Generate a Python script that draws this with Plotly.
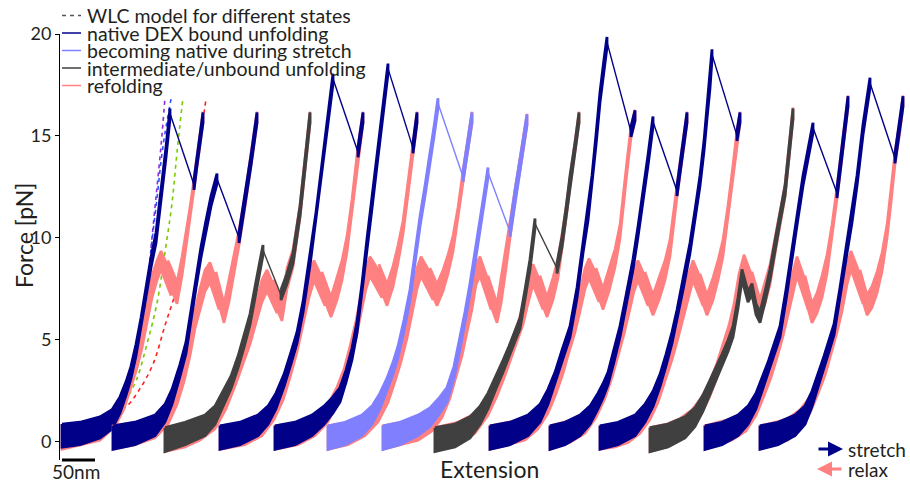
import numpy as np
import plotly.graph_objects as go

# ---------------- data (extension in chart units: 33 units = 50 nm; force in pN) ----------------
FORCE_TICKS = [0, 5, 10, 15, 20]
SCALE_BAR_UNITS = 33          # length of 50 nm in extension units
SCALE_BAR_LABEL = "50nm"

# WLC model curves (dashed)
WLC1_X = [151, 156, 161, 165]
WLC1_F = [9.5, 12.0, 14.5, 16.9]
WLC2_X = [145, 150, 156, 163, 171]
WLC2_F = [6.5, 9.0, 11.5, 14.5, 16.8]
WLC3_X = [129, 137, 147, 157, 165, 172, 177, 183]
WLC3_F = [2.3, 3.1, 4.8, 6.8, 9.3, 11.7, 14.2, 16.9]
WLC4_X = [122, 128, 140, 153, 165, 177, 188, 195, 200, 206]
WLC4_F = [1.6, 1.8, 2.6, 3.8, 5.7, 7.6, 10.6, 12.8, 14.7, 16.8]

# cycle 1 (native DEX bound)
S1X = [62, 80, 100, 112, 120, 126, 131, 136, 141, 146, 151, 156, 161, 166, 170, None, 194, 197, 200, 203]
S1F = [0.3, 0.4, 0.7, 1.1, 1.8, 2.6, 3.4, 4.5, 5.8, 7.3, 8.8, 10.0, 12.0, 14.2, 16.1, None, 12.6, 13.8, 14.9, 15.9]
R1X = [203, 198, 194, 190, 186, 182, 177, 168, 171, 161, 157, 152, 147, 142, 137, 131, 124, 115, 100, 80, 62]
R1F = [15.9, 14.2, 12.6, 11.2, 9.9, 8.6, 7.3, 8.4, 7.7, 8.9, 8.4, 7.6, 6.2, 5.0, 4.0, 3.0, 2.0, 1.2, 0.6, 0.4, 0.2]
# cycle 2 (native)
S2X = [113, 135, 155, 165, 172, 180, 186, 191, 196, 201, 206, 211, 217, None, 239, 245, 251, 257]
S2F = [0.2, 0.4, 0.8, 1.4, 2.2, 3.5, 4.6, 6.2, 7.8, 9.3, 10.6, 11.8, 12.9, None, 10.0, 11.8, 13.8, 15.9]
R2X = [257, 251, 245, 239, 234, 229, 224, 216, 219, 210, 205, 200, 195, 190, 184, 177, 168, 155, 135, 113]
R2F = [15.9, 13.8, 11.8, 10.0, 8.7, 7.4, 6.3, 7.8, 7.0, 8.3, 7.9, 7.0, 6.0, 4.6, 3.3, 2.2, 1.3, 0.7, 0.4, 0.2]
# cycle 3 (intermediate)
S3X = [165, 185, 205, 215, 223, 231, 238, 244, 250, 256, 263, None, 281, 287, 293, 300, 305, 310]
S3F = [0.1, 0.4, 0.8, 1.3, 2.1, 2.9, 3.9, 4.9, 6.0, 7.6, 9.4, None, 7.2, 8.0, 9.0, 11.3, 13.6, 15.9]
R3X = [310, 305, 300, 293, 287, 282, 274, 277, 267, 262, 256, 250, 244, 236, 226, 215, 200, 185, 165]
R3F = [15.9, 13.6, 11.3, 9.0, 8.0, 6.4, 7.4, 6.8, 7.9, 7.4, 6.3, 5.2, 4.3, 3.2, 2.0, 1.1, 0.6, 0.3, 0.1]
# cycle 4 (native)
S4X = [220, 240, 258, 268, 276, 284, 291, 297, 303, 310, 316, 321, 327, 333, None, 358, 361, 363]
S4F = [0.2, 0.4, 0.8, 1.3, 2.0, 3.0, 4.1, 5.1, 6.6, 8.9, 11.0, 13.0, 15.4, 17.8, None, 14.2, 15.1, 15.9]
R4X = [363, 358, 352, 347, 342, 337, 331, 322, 325, 314, 309, 303, 297, 290, 283, 274, 262, 245, 220]
R4F = [15.9, 14.2, 11.6, 9.7, 8.4, 7.5, 6.6, 7.8, 7.2, 8.4, 7.6, 6.2, 4.8, 3.5, 2.4, 1.5, 0.8, 0.4, 0.2]
# cycle 5 (native)
S5X = [275, 295, 312, 324, 333, 340, 346, 352, 357, 362, 367, 372, 377, 382, 388, None, 413, 415, 417]
S5F = [0.2, 0.4, 0.8, 1.3, 1.8, 2.3, 3.2, 4.3, 5.6, 7.5, 9.7, 11.7, 13.8, 16.0, 18.3, None, 14.4, 15.1, 15.9]
R5X = [417, 413, 408, 403, 398, 393, 387, 379, 382, 370, 366, 361, 356, 350, 344, 337, 328, 315, 298, 275]
R5F = [15.9, 14.4, 12.4, 10.5, 9.2, 8.1, 7.2, 8.2, 7.6, 8.6, 8.0, 6.8, 5.5, 4.3, 3.2, 2.3, 1.4, 0.8, 0.4, 0.2]
# cycle 6 (becoming native)
S6X = [328, 345, 362, 372, 380, 387, 393, 398, 404, 410, 415, 420, 425, 430, 434, 438, None, 463, 466, 469, 472]
S6F = [0.2, 0.4, 0.8, 1.3, 2.0, 2.8, 3.6, 4.4, 5.7, 7.2, 9.0, 10.8, 12.3, 13.8, 15.2, 16.6, None, 13.0, 14.0, 15.0, 15.9]
R6X = [472, 469, 466, 463, 458, 453, 448, 443, 437, 430, 433, 421, 417, 412, 407, 401, 395, 388, 378, 365, 348, 328]
R6F = [15.9, 15.0, 14.0, 13.0, 11.2, 9.7, 8.7, 7.9, 7.2, 8.0, 7.5, 8.6, 8.0, 6.7, 5.5, 4.3, 3.3, 2.3, 1.4, 0.8, 0.4, 0.2]
# cycle 7 (becoming native)
S7X = [383, 400, 418, 430, 440, 447, 454, 460, 465, 470, 475, 480, 484, 488, None, 510, 515, 521, 527]
S7F = [0.2, 0.4, 0.8, 1.2, 1.8, 2.3, 3.4, 4.8, 6.1, 7.5, 9.0, 10.5, 11.9, 13.2, None, 10.3, 12.1, 13.9, 15.8]
R7X = [527, 521, 515, 510, 505, 501, 497, 488, 491, 480, 476, 472, 467, 462, 456, 450, 442, 432, 418, 400, 383]
R7F = [15.8, 13.9, 12.1, 10.3, 8.6, 7.3, 6.3, 7.6, 7.0, 8.6, 8.2, 7.0, 5.8, 4.6, 3.5, 2.5, 1.6, 1.0, 0.6, 0.4, 0.2]
# cycle 8 (intermediate)
S8X = [435, 455, 470, 480, 488, 496, 503, 509, 515, 520, 525, 530, 535, None, 557, 562, 566, 570, 575, 579]
S8F = [0.1, 0.3, 0.7, 1.3, 2.0, 2.9, 3.7, 4.4, 5.2, 5.8, 7.2, 8.7, 10.7, None, 8.5, 9.8, 11.2, 12.8, 14.4, 15.9]
R8X = [579, 575, 570, 566, 562, 558, 553, 547, 540, 543, 533, 528, 523, 518, 512, 505, 497, 488, 475, 458, 435]
R8F = [15.9, 14.4, 12.8, 11.2, 9.8, 8.5, 7.5, 6.6, 7.6, 7.0, 8.2, 7.3, 6.2, 5.4, 4.6, 3.6, 2.6, 1.7, 0.9, 0.4, 0.1]
# cycle 9 (native)
S9X = [490, 510, 528, 540, 548, 555, 562, 570, 577, 583, 588, 592, 596, 600, 604, 607, None, 631, 633, 635]
S9F = [0.2, 0.4, 0.8, 1.4, 2.2, 3.1, 4.2, 5.4, 7.3, 9.5, 11.1, 12.8, 14.8, 16.9, 18.5, 19.6, None, 15.2, 15.6, 16.0]
R9X = [635, 631, 627, 623, 620, 615, 609, 603, 596, 599, 589, 585, 580, 575, 569, 563, 556, 548, 538, 525, 508, 490]
R9F = [16.0, 15.2, 13.5, 11.8, 10.3, 9.0, 7.9, 7.0, 8.0, 7.4, 8.5, 8.0, 6.9, 5.8, 4.8, 3.7, 2.7, 1.8, 1.1, 0.6, 0.4, 0.2]
# cycle 10 (native)
S10X = [550, 565, 580, 590, 598, 603, 608, 614, 620, 626, 633, 638, 643, 648, 653, None, 677, 680, 684, 687]
S10F = [0.2, 0.4, 0.8, 1.3, 2.0, 2.5, 3.1, 4.2, 5.4, 6.9, 8.7, 10.3, 12.0, 13.8, 15.7, None, 12.3, 13.4, 14.7, 15.9]
R10X = [687, 684, 680, 677, 673, 670, 665, 659, 653, 645, 648, 638, 634, 629, 624, 618, 612, 605, 596, 585, 570, 550]
R10F = [15.9, 14.7, 13.4, 12.3, 10.8, 9.5, 8.4, 7.5, 6.7, 7.8, 7.2, 8.4, 7.9, 6.8, 5.7, 4.6, 3.5, 2.5, 1.6, 0.9, 0.5, 0.2]
# cycle 11 (native)
S11X = [600, 618, 635, 645, 653, 660, 666, 672, 677, 683, 690, 695, 700, 704, 707, 710, 712, None, 737, 739, 740]
S11F = [0.2, 0.4, 0.8, 1.4, 2.1, 3.0, 4.0, 5.1, 6.2, 7.7, 9.5, 11.1, 12.8, 14.5, 16.1, 17.6, 19.0, None, 15.0, 15.5, 15.9]
R11X = [740, 737, 733, 728, 723, 718, 713, 707, 700, 703, 693, 688, 683, 678, 672, 665, 658, 650, 640, 628, 615, 600]
R11F = [15.9, 15.0, 13.3, 11.3, 9.5, 8.4, 7.5, 6.7, 7.7, 7.2, 8.4, 7.6, 6.5, 5.5, 4.4, 3.3, 2.3, 1.5, 0.9, 0.5, 0.3, 0.2]
# cycle 12 (intermediate)
S12X = [650, 668, 685, 695, 703, 710, 716, 722, 728, 733, 738, 742, 748, 752, 756, 760, 765, 770, 775, 780, 785, 789, 793]
S12F = [0.1, 0.3, 0.7, 1.2, 1.9, 2.7, 3.3, 4.0, 4.7, 5.4, 6.8, 8.2, 7.1, 7.5, 6.5, 6.1, 7.1, 8.2, 9.6, 11.0, 12.3, 14.2, 16.1]
R12X = [793, 789, 785, 780, 775, 770, 765, 760, 752, 755, 744, 739, 734, 729, 723, 717, 710, 702, 692, 680, 667, 650]
R12F = [16.1, 14.2, 12.3, 11.0, 9.6, 8.2, 7.3, 6.5, 7.8, 7.2, 8.7, 7.7, 6.3, 5.3, 4.4, 3.5, 2.6, 1.8, 1.1, 0.6, 0.3, 0.1]
# cycle 13 (native)
S13X = [705, 722, 738, 748, 756, 762, 768, 774, 780, 786, 793, 798, 803, 808, 813, None, 837, 841, 845, 848]
S13F = [0.2, 0.4, 0.8, 1.3, 2.0, 2.8, 3.6, 4.5, 5.4, 7.2, 9.5, 11.2, 12.8, 14.1, 15.4, None, 12.2, 13.8, 15.4, 16.7]
R13X = [848, 845, 841, 837, 832, 827, 822, 817, 812, 805, 808, 797, 793, 788, 783, 777, 771, 764, 756, 746, 732, 718, 705]
R13F = [16.7, 15.4, 13.8, 12.2, 10.3, 8.7, 7.6, 6.8, 6.3, 7.6, 7.0, 8.6, 7.8, 6.7, 5.6, 4.5, 3.5, 2.6, 1.7, 1.0, 0.6, 0.4, 0.2]
# cycle 14 (native)
S14X = [760, 778, 795, 805, 812, 818, 824, 829, 834, 840, 847, 852, 857, 863, 867, 870, None, 895, 898, 901, 903]
S14F = [0.2, 0.4, 0.8, 1.3, 2.1, 3.0, 3.9, 4.7, 5.5, 7.3, 9.5, 11.0, 12.8, 15.3, 16.5, 17.6, None, 13.9, 15.0, 16.0, 16.7]
R14X = [903, 900, 895, 891, 887, 882, 877, 872, 867, 860, 863, 851, 847, 842, 837, 831, 825, 818, 810, 800, 788, 775, 760]
R14F = [16.7, 15.5, 13.9, 12.0, 10.3, 8.8, 7.8, 7.1, 6.7, 7.9, 7.3, 8.9, 8.2, 6.9, 5.8, 4.7, 3.6, 2.7, 1.8, 1.1, 0.6, 0.4, 0.2]

CYCLE_STATES = ["native", "native", "intermediate", "native", "native", "becoming", "becoming",
                "intermediate", "native", "native", "native", "intermediate", "native", "native"]

LEGEND_LABELS = ["WLC model for different states", "native DEX bound unfolding",
                 "becoming native during stretch", "intermediate/unbound unfolding", "refolding"]

# ---------------- style ----------------
STATE_COLOR = {"native": "#000088", "becoming": "#8080ff", "intermediate": "#404040"}
RELAX_COLOR = "#ff8080"
WLC_COLORS = ["#8a2be2", "#3050ff", "#77cc00", "#ff2020"]
NOISE_F = [0, 1.5, 3, 6, 10, 20]        # noise band half-width (pN) vs force (styling)
NOISE_W = [0.6, 0.42, 0.3, 0.26, 0.25, 0.25]
RELAX_NOISE_F = [0, 1.5, 3, 6, 7.5, 9, 11, 20]
RELAX_NOISE_W = [0.6, 0.42, 0.34, 0.45, 0.55, 0.45, 0.3, 0.28]
FONT = "Lato"
TXT = "#231f20"

W, H = 910, 484
ML, MR, MT, MB = 60, 0, 34, 24
X_RANGE = [60, 910]
Y_RANGE = [-0.9, 20]


def px(x):
    return (x - ML) / (W - ML - MR)


def py(y):
    return (H - MB - y) / (H - MT - MB)


def segments(xs, fs):
    segs, cx, cf = [], [], []
    for x, f in zip(xs, fs):
        if x is None:
            segs.append((cx, cf))
            cx, cf = [], []
        else:
            cx.append(x)
            cf.append(f)
    segs.append((cx, cf))
    return [s for s in segs if s[0]]


def add_noisy(fig, xs, fs, color, lw, nf, nw):
    for sx, sf in segments(xs, fs):
        a = np.array(sx, float)
        f = np.array(sf, float)
        w = np.interp(f, nf, nw)
        bx = np.concatenate([a, a[::-1], a[:1]])
        by = np.concatenate([f + w, (f - w)[::-1], f[:1] + w[:1]])
        fig.add_trace(go.Scatter(x=bx, y=by, mode="lines", fill="toself", fillcolor=color,
                                 line=dict(color=color, width=lw), hoverinfo="skip", showlegend=False))


def add_jumps(fig, xs, fs, color):
    for i, x in enumerate(xs):
        if x is None:
            fig.add_trace(go.Scatter(x=[xs[i - 1], xs[i + 1]], y=[fs[i - 1], fs[i + 1]], mode="lines",
                                     line=dict(color=color, width=1.4), hoverinfo="skip", showlegend=False))


fig = go.Figure()

for wx, wf, wc in zip([WLC1_X, WLC2_X, WLC3_X, WLC4_X], [WLC1_F, WLC2_F, WLC3_F, WLC4_F], WLC_COLORS):
    fig.add_trace(go.Scatter(x=wx, y=wf, mode="lines", line=dict(color=wc, width=1.6, dash="4px,4px", shape="spline"),
                             hoverinfo="skip", showlegend=False))

stretches = [(S1X, S1F), (S2X, S2F), (S3X, S3F), (S4X, S4F), (S5X, S5F), (S6X, S6F), (S7X, S7F),
             (S8X, S8F), (S9X, S9F), (S10X, S10F), (S11X, S11F), (S12X, S12F), (S13X, S13F), (S14X, S14F)]
relaxes = [(R1X, R1F), (R2X, R2F), (R3X, R3F), (R4X, R4F), (R5X, R5F), (R6X, R6F), (R7X, R7F),
           (R8X, R8F), (R9X, R9F), (R10X, R10F), (R11X, R11F), (R12X, R12F), (R13X, R13F), (R14X, R14F)]

for (sx, sf), (rx, rf), state in zip(stretches, relaxes, CYCLE_STATES):
    c = STATE_COLOR[state]
    add_noisy(fig, rx, rf, RELAX_COLOR, 2.6, RELAX_NOISE_F, RELAX_NOISE_W)
    add_noisy(fig, sx, sf, c, 2.8, NOISE_F, NOISE_W)
    add_jumps(fig, sx, sf, c)

shapes = []
annotations = []

# manual legend
leg_y = [15.5, 33, 50.5, 68, 85.5]
leg_col = ["#555555", STATE_COLOR["native"], STATE_COLOR["becoming"], STATE_COLOR["intermediate"], RELAX_COLOR]
for i, (lab, yy, cc) in enumerate(zip(LEGEND_LABELS, leg_y, leg_col)):
    shapes.append(dict(type="line", xref="paper", yref="paper", x0=px(62), x1=px(81), y0=py(yy), y1=py(yy),
                       line=dict(color=cc, width=1.5, dash="4px,4px" if i == 0 else "solid")))
    annotations.append(dict(xref="paper", yref="paper", x=px(85), y=py(yy), text=lab, showarrow=False,
                            xanchor="left", yanchor="middle", font=dict(family=FONT, size=19.5, color=TXT)))

# scale bar
shapes.append(dict(type="line", xref="x", yref="paper", x0=62, x1=62 + SCALE_BAR_UNITS, y0=0, y1=0,
                   line=dict(color="black", width=3)))
annotations.append(dict(xref="paper", yref="paper", x=px(76), y=py(471), text=SCALE_BAR_LABEL, showarrow=False,
                        xanchor="center", yanchor="middle", font=dict(family=FONT, size=19, color=TXT)))
# axis titles
annotations.append(dict(xref="paper", yref="paper", x=px(489), y=py(469), text="Extension", showarrow=False,
                        xanchor="center", yanchor="middle", font=dict(family=FONT, size=23, color=TXT)))
annotations.append(dict(xref="paper", yref="paper", x=px(24), y=py(236), text="Force [pN]", showarrow=False,
                        textangle=-90, xanchor="center", yanchor="middle", font=dict(family=FONT, size=23, color=TXT)))
# stretch / relax arrows
annotations.append(dict(xref="paper", yref="paper", x=px(843), y=py(449), ax=-26, ay=0, text="", showarrow=True,
                        arrowhead=2, arrowsize=1, arrowwidth=3, arrowcolor=STATE_COLOR["native"]))
annotations.append(dict(xref="paper", yref="paper", x=px(817), y=py(469), ax=26, ay=0, text="", showarrow=True,
                        arrowhead=2, arrowsize=1, arrowwidth=3, arrowcolor=RELAX_COLOR))
annotations.append(dict(xref="paper", yref="paper", x=px(846), y=py(449), text="stretch", showarrow=False,
                        xanchor="left", yanchor="middle", font=dict(family=FONT, size=19, color=TXT)))
annotations.append(dict(xref="paper", yref="paper", x=px(846), y=py(469), text="relax", showarrow=False,
                        xanchor="left", yanchor="middle", font=dict(family=FONT, size=19, color=TXT)))

fig.update_layout(
    width=W, height=H, margin=dict(l=ML, r=MR, t=MT, b=MB),
    plot_bgcolor="white", paper_bgcolor="white", showlegend=False,
    xaxis=dict(range=X_RANGE, visible=False),
    yaxis=dict(range=Y_RANGE, tickvals=FORCE_TICKS, ticks="outside", ticklen=4, tickcolor="black",
               showline=True, linecolor="black", linewidth=1, showgrid=False, zeroline=False,
               tickfont=dict(family=FONT, size=18, color=TXT)),
    shapes=shapes, annotations=annotations,
)

fig.write_html("out.html")
